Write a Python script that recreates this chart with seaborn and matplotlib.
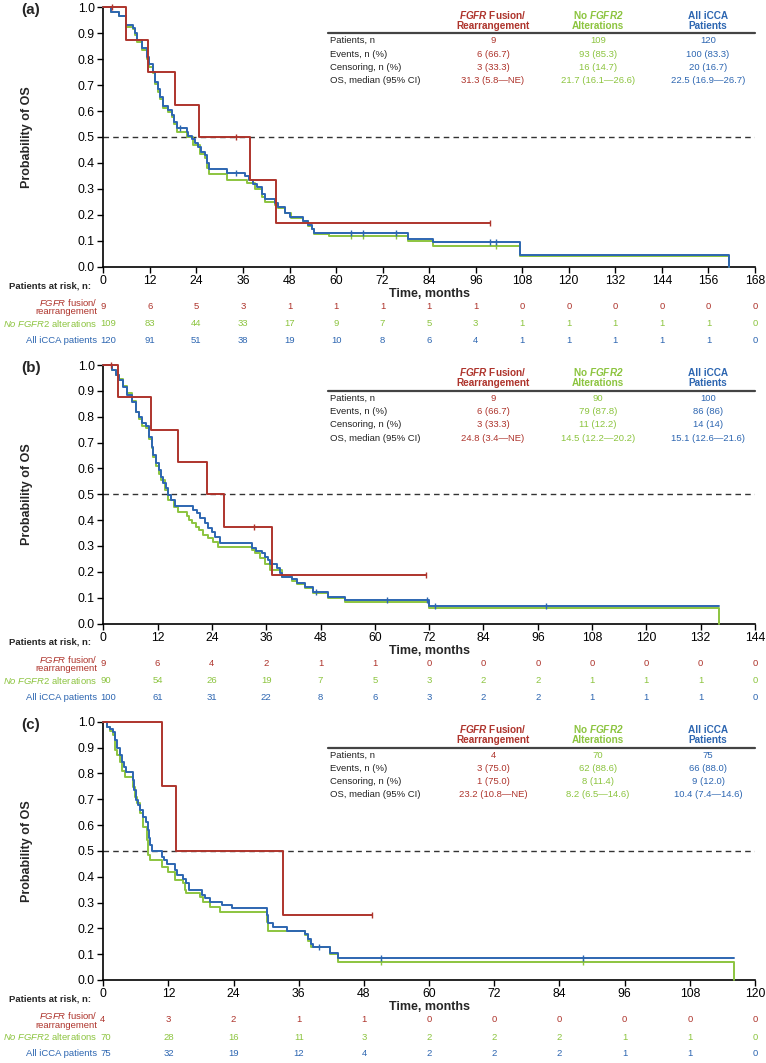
import numpy as np
import pandas as pd
import matplotlib
matplotlib.use("Agg")
import matplotlib.pyplot as plt
import seaborn as sns

# -------------------------------
# DATA
# -------------------------------
groups = ["FGFR", "NoFGFR2", "All"]
colors = {"FGFR": "#AE342C", "NoFGFR2": "#8CC43F", "All": "#2D66B1"}

# panel (a) KM steps: (time, survival after that time)
a_fgfr = [(0, 1.0), (5.8, 0.875), (11.4, 0.75), (18.5, 0.625), (24.7, 0.5), (37.8, 0.333),
          (44.4, 0.167), (99.8, 0.167)]
a_no = [(0, 1.0), (2.1, 0.983), (4.0, 0.966), (5.8, 0.925), (7.6, 0.915), (8.2, 0.895),
        (8.6, 0.868), (9.9, 0.835), (11.2, 0.80), (11.9, 0.77), (12.8, 0.745), (13.4, 0.705),
        (14.0, 0.675), (14.7, 0.645), (15.5, 0.61), (16.8, 0.595), (17.7, 0.578), (18.3, 0.55),
        (19.0, 0.52), (21.5, 0.50), (23.0, 0.47), (24.9, 0.436), (26.2, 0.418), (26.8, 0.379),
        (27.3, 0.357), (31.8, 0.334), (37.1, 0.324), (39.0, 0.30), (40.8, 0.27), (41.7, 0.25),
        (44.2, 0.237), (45.0, 0.225), (46.8, 0.205), (48.4, 0.187), (51.5, 0.176), (52.8, 0.155),
        (53.7, 0.144), (54.2, 0.127), (58.2, 0.118), (78.6, 0.10), (84.9, 0.079), (107.4, 0.041),
        (161.2, 0.0)]
a_all = [(0, 1.0), (2.1, 0.983), (4.0, 0.966), (5.8, 0.93), (7.6, 0.919), (8.2, 0.9),
         (8.6, 0.874), (9.9, 0.842), (11.2, 0.81), (11.9, 0.78), (12.8, 0.752), (13.4, 0.713),
         (14.0, 0.684), (14.7, 0.655), (15.5, 0.619), (16.8, 0.604), (17.7, 0.585), (18.3, 0.559),
         (19.0, 0.534), (21.5, 0.52), (21.9, 0.505), (22.8, 0.491), (23.6, 0.476), (24.4, 0.463),
         (25.3, 0.443), (26.2, 0.43), (26.8, 0.398), (27.3, 0.375), (31.8, 0.36), (36.5, 0.348),
         (37.6, 0.335), (38.6, 0.32), (39.5, 0.308), (40.8, 0.28), (41.7, 0.26), (44.2, 0.244),
         (45.0, 0.229), (46.8, 0.208), (48.1, 0.193), (51.5, 0.174), (52.8, 0.161), (53.7, 0.146),
         (54.3, 0.131), (78.6, 0.107), (84.9, 0.093), (107.4, 0.045), (161.2, 0.0)]
a_cens = {"FGFR": [(2.3, 1.0), (34.2, 0.5), (99.8, 0.167)],
          "NoFGFR2": [(63.8, 0.118), (67.0, 0.118), (75.4, 0.118), (101.2, 0.079)],
          "All": [(19.8, 0.534), (34.2, 0.36), (63.8, 0.131), (67.0, 0.131), (75.4, 0.131),
                  (99.8, 0.093), (101.2, 0.093)]}

# panel (b)
b_fgfr = [(0, 1.0), (3.3, 0.875), (10.5, 0.75), (16.4, 0.625), (23.0, 0.5), (26.7, 0.375),
          (37.3, 0.1875), (71.4, 0.1875)]
b_no = [(0, 1.0), (1.85, 0.98), (2.8, 0.96), (3.5, 0.945), (4.3, 0.92), (5.3, 0.89), (6.4, 0.86),
        (7.2, 0.82), (7.9, 0.79), (8.5, 0.765), (9.4, 0.755), (10.0, 0.715), (10.7, 0.68),
        (11.0, 0.645), (11.6, 0.61), (12.2, 0.58), (12.7, 0.555), (13.6, 0.516), (14.3, 0.477),
        (15.6, 0.452), (16.4, 0.432), (18.4, 0.417), (19.0, 0.40), (19.7, 0.387), (20.4, 0.374),
        (21.1, 0.361), (22.1, 0.342), (23.2, 0.329), (24.2, 0.316), (25.4, 0.297), (32.8, 0.284),
        (33.6, 0.271), (34.7, 0.252), (35.7, 0.23), (36.8, 0.207), (39.4, 0.181), (41.6, 0.166),
        (42.7, 0.152), (44.6, 0.136), (46.4, 0.117), (49.7, 0.098), (53.4, 0.082), (72.0, 0.059),
        (136.1, 0.0)]
b_all = [(0, 1.0), (1.85, 0.98), (2.8, 0.96), (3.5, 0.941), (4.3, 0.915), (5.3, 0.884),
         (6.4, 0.858), (7.2, 0.819), (7.9, 0.80), (8.5, 0.777), (9.4, 0.764), (10.0, 0.723),
         (10.7, 0.684), (11.0, 0.652), (11.6, 0.62), (12.2, 0.594), (12.7, 0.568), (13.2, 0.542),
         (13.9, 0.523), (14.4, 0.497), (14.9, 0.477), (15.9, 0.455), (19.9, 0.439), (20.6, 0.426),
         (21.4, 0.409), (22.5, 0.387), (23.2, 0.368), (24.0, 0.355), (24.7, 0.336), (25.8, 0.31),
         (32.8, 0.294), (33.8, 0.28), (35.0, 0.271), (35.7, 0.258), (36.4, 0.245), (36.8, 0.23),
         (38.3, 0.213), (39.0, 0.197), (39.4, 0.181), (41.6, 0.171), (42.7, 0.158), (44.6, 0.142),
         (46.4, 0.123), (49.7, 0.101), (53.4, 0.091), (72.0, 0.068), (136.1, 0.068)]
b_cens = {"FGFR": [(1.8, 1.0), (33.3, 0.375), (71.4, 0.1875)],
          "NoFGFR2": [],
          "All": [(46.9, 0.123), (62.6, 0.091), (71.6, 0.091), (73.3, 0.068), (97.8, 0.068)]}

# panel (c)
c_fgfr = [(0, 1.0), (10.9, 0.75), (13.4, 0.5), (33.0, 0.25), (49.5, 0.25)]
c_no = [(0, 1.0), (0.6, 0.98), (1.3, 0.965), (1.8, 0.95), (2.2, 0.89), (2.6, 0.87), (3.0, 0.845),
        (3.4, 0.81), (4.0, 0.787), (5.4, 0.748), (5.8, 0.71), (6.2, 0.684), (6.8, 0.645),
        (7.4, 0.594), (8.0, 0.542), (8.3, 0.484), (8.6, 0.465), (10.8, 0.436), (11.9, 0.419),
        (13.2, 0.387), (14.7, 0.374), (15.0, 0.348), (15.3, 0.335), (17.8, 0.323), (18.4, 0.303),
        (19.7, 0.284), (21.5, 0.264), (30.1, 0.226), (30.4, 0.19), (37.1, 0.174), (37.7, 0.152),
        (38.3, 0.129), (41.7, 0.10), (43.3, 0.071), (116.1, 0.0)]
c_all = [(0, 1.0), (0.6, 0.981), (1.3, 0.97), (1.8, 0.96), (2.2, 0.929), (2.6, 0.897),
         (3.0, 0.871), (3.4, 0.845), (3.8, 0.826), (4.2, 0.806), (5.4, 0.774), (5.7, 0.736),
         (6.0, 0.697), (6.3, 0.677), (6.8, 0.658), (7.3, 0.632), (7.8, 0.613), (8.2, 0.581),
         (8.4, 0.548), (8.6, 0.523), (8.9, 0.50), (10.8, 0.477), (11.1, 0.465), (11.7, 0.449),
         (13.2, 0.426), (13.5, 0.406), (14.7, 0.39), (15.3, 0.374), (15.7, 0.348), (18.1, 0.329),
         (18.7, 0.316), (19.7, 0.303), (21.8, 0.29), (23.7, 0.277), (30.1, 0.252), (30.4, 0.219),
         (31.3, 0.204), (33.8, 0.191), (37.1, 0.18), (37.7, 0.16), (38.3, 0.141), (38.6, 0.126),
         (41.7, 0.103), (43.3, 0.084), (116.1, 0.084)]
c_cens = {"FGFR": [(49.5, 0.25)],
          "NoFGFR2": [(51.2, 0.071), (88.3, 0.071)],
          "All": [(39.8, 0.126), (51.2, 0.084), (88.3, 0.084)]}

# numbers at risk
a_xmax = 168
a_risk = {"FGFR": [9, 6, 5, 3, 1, 1, 1, 1, 1, 0, 0, 0, 0, 0, 0],
          "NoFGFR2": [109, 83, 44, 33, 17, 9, 7, 5, 3, 1, 1, 1, 1, 1, 0],
          "All": [120, 91, 51, 38, 19, 10, 8, 6, 4, 1, 1, 1, 1, 1, 0]}
b_xmax = 144
b_risk = {"FGFR": [9, 6, 4, 2, 1, 1, 0, 0, 0, 0, 0, 0, 0],
          "NoFGFR2": [90, 54, 26, 19, 7, 5, 3, 2, 2, 1, 1, 1, 0],
          "All": [100, 61, 31, 22, 8, 6, 3, 2, 2, 1, 1, 1, 0]}
c_xmax = 120
c_risk = {"FGFR": [4, 3, 2, 1, 1, 0, 0, 0, 0, 0, 0],
          "NoFGFR2": [70, 28, 16, 11, 3, 2, 2, 2, 1, 1, 0],
          "All": [75, 32, 19, 12, 4, 2, 2, 2, 1, 1, 0]}

# summary tables
stat_rows = ["Patients, n", "Events, n (%)", "Censoring, n (%)", "OS, median (95% CI)"]
a_stats = {"FGFR": ["9", "6 (66.7)", "3 (33.3)", "31.3 (5.8\u2014NE)"],
           "NoFGFR2": ["109", "93 (85.3)", "16 (14.7)", "21.7 (16.1\u201426.6)"],
           "All": ["120", "100 (83.3)", "20 (16.7)", "22.5 (16.9\u201426.7)"]}
b_stats = {"FGFR": ["9", "6 (66.7)", "3 (33.3)", "24.8 (3.4\u2014NE)"],
           "NoFGFR2": ["90", "79 (87.8)", "11 (12.2)", "14.5 (12.2\u201420.2)"],
           "All": ["100", "86 (86)", "14 (14)", "15.1 (12.6\u201421.6)"]}
c_stats = {"FGFR": ["4", "3 (75.0)", "1 (75.0)", "23.2 (10.8\u2014NE)"],
           "NoFGFR2": ["70", "62 (88.6)", "8 (11.4)", "8.2 (6.5\u201414.6)"],
           "All": ["75", "66 (88.0)", "9 (12.0)", "10.4 (7.4\u201414.6)"]}

headers = {"FGFR": r"$\mathbfit{FGFR}$ Fusion/" + "\nRearrangement",
           "NoFGFR2": r"No $\mathbfit{FGFR2}$" + "\nAlterations",
           "All": "All iCCA\nPatients"}
risk_labels = {"FGFR": r"$\mathit{FGFR}$ fusion/" + "\nrearrangement",
               "NoFGFR2": r"$\mathit{No\ FGFR2}$ alterations",
               "All": "All iCCA patients"}

panels = [
    ("(a)", [a_fgfr, a_no, a_all], a_cens, a_xmax, a_risk, a_stats),
    ("(b)", [b_fgfr, b_no, b_all], b_cens, b_xmax, b_risk, b_stats),
    ("(c)", [c_fgfr, c_no, c_all], c_cens, c_xmax, c_risk, c_stats),
]

# -------------------------------
# STYLE
# -------------------------------
sns.set_style("ticks")
plt.rcParams["font.family"] = ["Liberation Sans", "DejaVu Sans"]
plt.rcParams["mathtext.fontset"] = "custom"
plt.rcParams["mathtext.rm"] = "Liberation Sans"
plt.rcParams["mathtext.it"] = "Liberation Sans:italic"
plt.rcParams["mathtext.bf"] = "Liberation Sans:bold"
plt.rcParams["mathtext.bfit"] = "Liberation Sans:italic:bold"

W, H = 766, 1063
fig = plt.figure(figsize=(W / 100, H / 100), dpi=100)

ax_left, ax_right = 103.3, 755
ax_tops = [7.3, 365, 721.7]
ax_bots = [266.6, 623.5, 980]
row_dy = {"FGFR": 40, "NoFGFR2": 57, "All": 74}
col_x = {"FGFR": 0.598, "NoFGFR2": 0.759, "All": 0.928}
fs_small = 6.8

for i, (tag, curves, cens, xmax, risk, stats) in enumerate(panels):
    top, bot = ax_tops[i], ax_bots[i]
    ax = fig.add_axes([ax_left / W, 1 - bot / H, (ax_right - ax_left) / W, (bot - top) / H])

    frames = []
    for g, pts in zip(groups, curves):
        df = pd.DataFrame(pts, columns=["time", "surv"])
        df["group"] = g
        frames.append(df)
    data = pd.concat(frames, ignore_index=True)
    # draw green first, then blue, red on top
    for g in ["NoFGFR2", "All", "FGFR"]:
        sub = data[data["group"] == g]
        sns.lineplot(data=sub, x="time", y="surv", color=colors[g], lw=1.4,
                     drawstyle="steps-post", estimator=None, sort=False, ax=ax,
                     legend=False, clip_on=False, zorder=3)
        cp = cens[g]
        if cp:
            ax.scatter([p[0] for p in cp], [p[1] for p in cp], marker="|", s=22,
                       color=colors[g], linewidths=1.0, zorder=4, clip_on=False)

    ax.axhline(0.5, color="#333333", ls=(0, (4, 3)), lw=1.0, zorder=2)

    ax.set_xlim(0, xmax)
    ax.set_ylim(0, 1)
    ax.set_xticks(np.arange(0, xmax + 1, 12))
    ax.set_yticks(np.round(np.arange(0, 1.01, 0.1), 1))
    ax.set_yticklabels([f"{v:.1f}" for v in np.arange(0, 1.01, 0.1)])
    sns.despine(ax=ax)
    for s in ["left", "bottom"]:
        ax.spines[s].set_linewidth(1.2)
        ax.spines[s].set_color("black")
    ax.tick_params(direction="out", length=4, width=1.0, labelsize=8.8, pad=2, colors="black")
    ax.set_xlabel("Time, months", fontsize=9, fontweight="bold")
    ax.xaxis.set_label_coords(0.5, -21 / (bot - top))
    ax.set_ylabel("Probability of OS", fontsize=9, fontweight="bold")
    ax.yaxis.set_label_coords((33 - ax_left) / (ax_right - ax_left), 0.5)

    # panel tag
    fig.text(31 / W, 1 - (top + 3) / H, tag, fontsize=11, fontweight="bold",
             ha="center", va="center")

    # summary table inside the axes
    line_y = 0.90
    ax.plot([0.345, 1.0], [line_y, line_y], transform=ax.transAxes, color="#444444",
            lw=1.6, clip_on=False)
    ph = bot - top
    for k, lab in enumerate(stat_rows):
        yy = line_y - (7.5 + k * 13.3) / ph
        ax.text(0.348, yy, lab, transform=ax.transAxes, fontsize=fs_small, color="#222222",
                ha="left", va="center")
        for g in groups:
            ax.text(col_x[g], yy, stats[g][k], transform=ax.transAxes, fontsize=fs_small,
                    color=colors[g], ha="center", va="center")
    for g in groups:
        ax.text(col_x[g], line_y + 2.5 / ph, headers[g], transform=ax.transAxes,
                fontsize=7.2, fontweight="bold", color=colors[g], ha="center", va="bottom",
                multialignment="center", linespacing=1.0)

    # numbers at risk table
    fig.text(9 / W, 1 - (bot + 19) / H, "Patients at risk, n:", fontsize=fs_small,
             fontweight="bold", ha="left", va="center")
    ticks = np.arange(0, xmax + 1, 12)
    for g in groups:
        ydy = row_dy[g]
        ax.annotate(risk_labels[g], xy=(0, 0), xycoords="data",
                    xytext=(-6, -ydy), textcoords="offset pixels", fontsize=fs_small,
                    color=colors[g], ha="right", va="center", multialignment="right",
                    linespacing=0.9, annotation_clip=False)
        for j, (t, n) in enumerate(zip(ticks, risk[g])):
            ax.annotate(str(n), xy=(t, 0), xycoords="data",
                        xytext=(-3 if j == 0 else 0, -ydy), textcoords="offset pixels",
                        fontsize=fs_small, color=colors[g], ha="left" if j == 0 else "center",
                        va="center", annotation_clip=False)

fig.savefig("out.png", dpi=100)
